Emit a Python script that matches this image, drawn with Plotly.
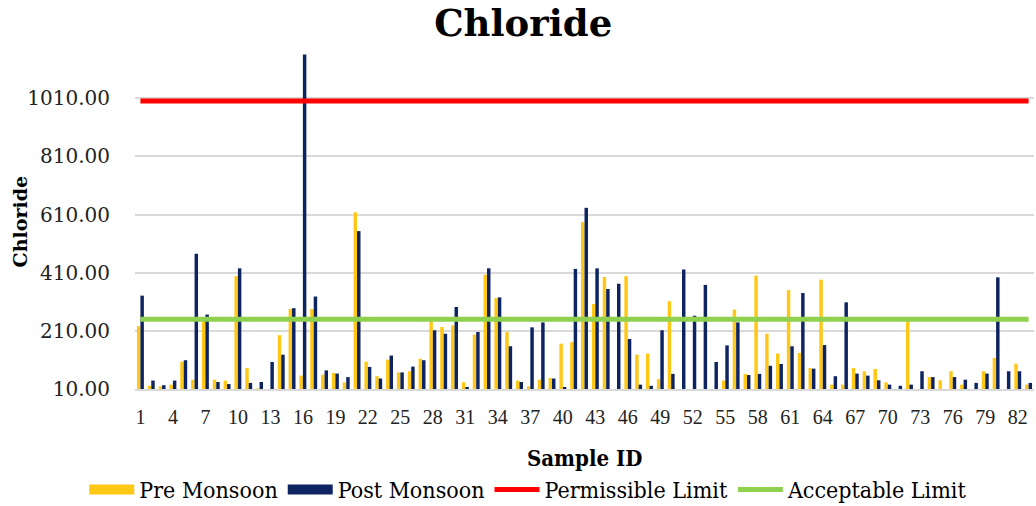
import plotly.graph_objects as go

sample_ids = list(range(1, 84))
pre_monsoon = [226, 21, 19, 25, 104, 42, 243, 42, 39, 398, 82, 12, 5, 195, 285, 56, 285, 59, 65, 33,
               618, 104, 54, 111, 67, 71, 114, 243, 223, 229, 33, 197, 403, 323, 206, 39, 19, 42, 48, 166,
               171, 584, 302, 395, 5, 398, 128, 132, 44, 312, 5, 5, 5, 5, 39, 283, 62, 400, 200, 132,
               350, 134, 82, 386, 25, 25, 82, 71, 79, 33, 5, 243, 5, 51, 40, 71, 25, 5, 71, 117,
               5, 97, 25]
post_monsoon = [331, 39, 23, 39, 109, 475, 266, 34, 27, 425, 31, 34, 103, 128, 288, 1160, 328, 74, 63, 51,
                553, 86, 46, 125, 67, 87, 109, 212, 200, 292, 17, 206, 425, 325, 157, 34, 222, 239, 46, 17,
                423, 633, 425, 354, 372, 182, 25, 21, 212, 62, 421, 262, 368, 103, 160, 239, 58, 62, 90, 96,
                157, 340, 80, 161, 54, 308, 63, 56, 40, 25, 21, 25, 71, 51, 5, 51, 42, 31, 63, 394,
                71, 71, 31]
permissible_limit = 1000
acceptable_limit = 250
y_ticks = [10, 210, 410, 610, 810, 1010]
x_ticks = list(range(1, 84, 3))

SERIF = "DejaVu Serif"
COND = "DejaVu Serif Condensed, DejaVu Serif"
PRE_COLOR = "#FFC814"
POST_COLOR = "#0E2460"

fig = go.Figure()
fig.add_trace(go.Bar(x=sample_ids, y=pre_monsoon, name="Pre Monsoon", showlegend=False,
                     legendgroup="pre", marker=dict(color=PRE_COLOR, line=dict(width=0))))
fig.add_trace(go.Bar(x=sample_ids, y=post_monsoon, name="Post Monsoon", showlegend=False,
                     legendgroup="post", marker=dict(color=POST_COLOR, line=dict(width=0))))
# legend swatches for the bar series (wide rectangles like the reference)
fig.add_trace(go.Scatter(x=[None], y=[None], mode="lines", name="Pre Monsoon", legendgroup="pre",
                         line=dict(color=PRE_COLOR, width=13)))
fig.add_trace(go.Scatter(x=[None], y=[None], mode="lines", name="Post Monsoon", legendgroup="post",
                         line=dict(color=POST_COLOR, width=13)))
fig.add_trace(go.Scatter(x=sample_ids, y=[permissible_limit] * len(sample_ids), mode="lines",
                         name="Permissible Limit", line=dict(color="#FF0000", width=5)))
fig.add_trace(go.Scatter(x=sample_ids, y=[acceptable_limit] * len(sample_ids), mode="lines",
                         name="Acceptable Limit", line=dict(color="#8FD14F", width=5)))

fig.update_layout(
    width=1036, height=506,
    margin=dict(l=135, r=2, t=54, b=117, autoexpand=False),
    paper_bgcolor="white", plot_bgcolor="white",
    barmode="group", bargap=0.36, bargroupgap=0,
    title=dict(text="<b>Chloride</b>", x=0.505, xanchor="center", y=0.955, yanchor="middle",
               font=dict(family=SERIF, size=37, color="black")),
    showlegend=True,
    legend=dict(orientation="h", x=0.438, xanchor="center", y=-0.30, yanchor="middle",
                font=dict(family=COND, size=23, color="black"), itemwidth=45,
                traceorder="normal", bgcolor="rgba(0,0,0,0)"),
    xaxis=dict(range=[0.5, 83.5], tickmode="array", tickvals=x_ticks,
               ticktext=[str(v) for v in x_ticks], automargin=False,
               tickfont=dict(family="Liberation Serif", size=20, color="#222"),
               ticks="outside", ticklen=9, tickcolor="rgba(0,0,0,0)",
               showgrid=False, showline=True, linecolor="#d9d9d9", linewidth=2, zeroline=False),
    yaxis=dict(range=[10, 1162], tickmode="array", tickvals=y_ticks,
               ticktext=[f"{v:.2f}" for v in y_ticks], automargin=False,
               tickfont=dict(family=SERIF, size=20, color="#222"),
               ticks="outside", ticklen=20, tickcolor="rgba(0,0,0,0)",
               showgrid=True, gridcolor="#d9d9d9", gridwidth=1.5, zeroline=False, showline=False),
    annotations=[
        dict(text="<b>Chloride</b>", x=-0.128, y=0.50, xref="paper", yref="paper",
             textangle=-90, showarrow=False, xanchor="center", yanchor="middle",
             font=dict(family=SERIF, size=19, color="black")),
        dict(text="<b>Sample ID</b>", x=0.50, y=-0.206, xref="paper", yref="paper",
             showarrow=False, xanchor="center", yanchor="middle",
             font=dict(family=COND, size=22, color="black")),
    ],
)

fig.write_html("out.html", config={"displayModeBar": False},
               post_script="document.body.style.margin='0';document.body.style.overflow='hidden';")
